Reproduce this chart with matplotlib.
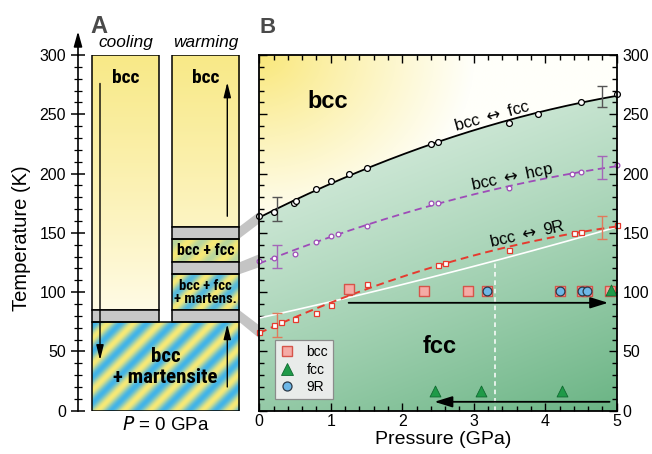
import numpy as np
import matplotlib
matplotlib.use('Agg')
import matplotlib.pyplot as plt
from matplotlib.patches import Rectangle, Polygon
from matplotlib.lines import Line2D
from matplotlib import font_manager as fm
from matplotlib.ticker import MultipleLocator

# ---------------- data ----------------
# Panel B: bcc <-> fcc transition points
fcc_P = [0, 0.2, 0.49, 0.52, 0.8, 1.0, 1.25, 1.5, 2.4, 2.5, 3.5, 3.9, 4.5, 5.0]
fcc_T = [164, 168, 175, 176.5, 187, 193.5, 200, 205, 225, 227, 243, 250, 260, 267]
# bcc <-> hcp
hcp_P = [0, 0.2, 0.5, 0.8, 1.0, 1.1, 1.5, 2.4, 2.5, 3.5, 4.38, 4.5, 5.0]
hcp_T = [126, 129, 132, 142.5, 147.5, 149, 156, 175, 175.5, 187.5, 200, 201, 207]
# bcc <-> 9R
r9_P = [0, 0.2, 0.3, 0.5, 0.8, 1.0, 1.26, 1.5, 2.5, 2.6, 3.5, 4.4, 4.5, 5.0]
r9_T = [66, 72, 74.5, 77, 82, 89.5, 100, 106.5, 123, 124.5, 135.5, 149.5, 150.5, 156.5]
# white boundary curve
white_P = [0, 1, 2, 3, 4, 5]
white_T = [78, 92, 107, 121, 138, 155]
white_dash_P = 3.3
# error bars (P, centre T, half-width)
fcc_err_P = [0.25, 4.8]; fcc_err_T = [170, 265]; fcc_err = [10, 9]
hcp_err_P = [0.25, 4.8]; hcp_err_T = [130, 205]; hcp_err = [10, 10]
r9_err_P = [0.25, 4.8]; r9_err_T = [72.5, 154.5]; r9_err = [10, 10]
# phase-identification markers
bcc_pts_P = [1.25, 2.3, 2.92, 3.19, 4.2, 4.51, 4.59, 4.9]
bcc_pts_T = [103, 101, 101, 101, 101, 101, 101, 101]
fcc_pts_P = [2.46, 3.1, 4.23, 4.92]
fcc_pts_T = [17, 17, 17, 102]
fcc_pts_err = [4, 4, 4, 0]
r9_pts_P = [3.19, 4.2, 4.51, 4.59]
r9_pts_T = [101, 101, 101, 101]
# path arrows (P start, P end, T)
arrow_up_path = (1.25, 4.88, 91)
arrow_down_path = (4.9, 2.45, 7.5)

# Panel A: phase bands (T ranges)
cool_bcc = (85, 300)
gray_low = (75, 85)
mart_box = (0, 75)
warm_bcc = (155, 300)
warm_gray1 = (145, 155)
warm_bf = (125, 145)
warm_gray2 = (115, 125)
warm_bfm = (85, 115)
# connector targets on panel B axis (T ranges at P = 0)
conn_src = [(145, 155), (115, 125), (75, 85)]
conn_dst = [(158, 168), (121, 132), (61, 72)]

# ---------------- fonts ----------------
def has_font(name):
    try:
        fm.findfont(fm.FontProperties(family=name), fallback_to_default=False)
        return True
    except Exception:
        return False

base = 'Liberation Sans' if has_font('Liberation Sans') else 'DejaVu Sans'
narrow = None
for f in fm.fontManager.ttflist:
    n = f.name
    if ('Narrow' in n or 'Condensed' in n) and n not in ('DejaVu Sans Mono',):
        narrow = n
        if 'Liberation' in n or 'Arial' in n or 'Nimbus' in n:
            break
if narrow is None:
    narrow = base
    NS = 0.86   # shrink factor when no condensed face exists
else:
    NS = 1.0
plt.rcParams['font.family'] = [base, 'DejaVu Sans']

W, H = 652, 454
fig = plt.figure(figsize=(W / 100, H / 100), dpi=100)
fig.patch.set_facecolor('white')

Y_TOP, Y_BOT = 55.0, 410.7
A_L, A_R = 78.0, 245.0
B_L, B_R = 259.3, 616.7
PPK = (Y_BOT - Y_TOP) / 300.0

axA = fig.add_axes([A_L / W, 1 - Y_BOT / H, (A_R - A_L) / W, (Y_BOT - Y_TOP) / H])
axB = fig.add_axes([B_L / W, 1 - Y_BOT / H, (B_R - B_L) / W, (Y_BOT - Y_TOP) / H])

# ---------------- Panel A ----------------
axA.patch.set_alpha(0)
for s in ['top', 'right', 'bottom']:
    axA.spines[s].set_visible(False)
axA.spines['left'].set_linewidth(1.2)

COOL = (14, 81)
WARM = (94, 161)

def stripes(ax, x0, x1, t0, t1, strength=1.0):
    nx = max(int((x1 - x0) * 3), 2)
    ny = max(int((t1 - t0) * PPK * 3), 2)
    xs = np.linspace(x0, x1, nx)
    ys = np.linspace(t0, t1, ny) * PPK
    X, Y = np.meshgrid(xs, ys)
    v = 0.5 + 0.5 * np.sin(2 * np.pi * (X - Y) / 26.0)
    v = v * strength
    blue = np.array([66, 180, 232]) / 255
    yel = np.array([247, 233, 118]) / 255
    img = yel * (1 - v[..., None]) + blue * v[..., None]
    ax.imshow(img, extent=(x0, x1, t0, t1), origin='lower', aspect='auto',
              interpolation='bilinear', zorder=1)

def ygrad(ax, x0, x1, t0, t1):
    ts = np.linspace(t0, t1, 200)
    f = np.clip((ts - 85) / (300 - 85), 0, 1) ** 0.9
    top = np.array([248, 233, 135]) / 255
    bot = np.array([255, 251, 230]) / 255
    col = bot * (1 - f[:, None]) + top * f[:, None]
    img = np.repeat(col[:, None, :], 2, axis=1)
    ax.imshow(img, extent=(x0, x1, t0, t1), origin='lower', aspect='auto',
              interpolation='bilinear', zorder=1)

def box(ax, x0, x1, t0, t1, fc='none'):
    ax.add_patch(Rectangle((x0, t0), x1 - x0, t1 - t0, facecolor=fc,
                           edgecolor='black', lw=1.1, zorder=3))

GRAY = '#c8c8c8'
# cooling column
ygrad(axA, COOL[0], COOL[1], *cool_bcc)
box(axA, COOL[0], COOL[1], *cool_bcc)
box(axA, COOL[0], COOL[1], *gray_low, fc=GRAY)
# warming column
ygrad(axA, WARM[0], WARM[1], *warm_bcc)
box(axA, WARM[0], WARM[1], *warm_bcc)
box(axA, WARM[0], WARM[1], *warm_gray1, fc=GRAY)
stripes(axA, WARM[0], WARM[1], *warm_bf, strength=0.35)
box(axA, WARM[0], WARM[1], *warm_bf)
box(axA, WARM[0], WARM[1], *warm_gray2, fc=GRAY)
stripes(axA, WARM[0], WARM[1], *warm_bfm, strength=0.9)
box(axA, WARM[0], WARM[1], *warm_bfm)
box(axA, WARM[0], WARM[1], *gray_low, fc=GRAY)
# martensite box
stripes(axA, COOL[0], WARM[1], *mart_box, strength=1.0)
box(axA, COOL[0], WARM[1], *mart_box)

# connectors
xc1 = B_L - A_L
for (s0, s1), (d0, d1) in zip(conn_src, conn_dst):
    axA.add_patch(Polygon([(WARM[1], s0), (WARM[1], s1), (xc1, d1), (xc1, d0)],
                          closed=True, facecolor='#c4c4c4', edgecolor='none',
                          clip_on=False, zorder=0.5))

# arrows in A
ak = dict(arrowstyle='-|>,head_length=0.9,head_width=0.22', color='black', lw=1.0,
          shrinkA=0, shrinkB=0, mutation_scale=10)
axA.annotate('', xy=(22, 42.6), xytext=(22, 276), arrowprops=ak, zorder=4)
axA.annotate('', xy=(149.3, 277), xytext=(149.3, 164), arrowprops=ak, zorder=4)
axA.annotate('', xy=(149.3, 73), xytext=(149.3, 20), arrowprops=ak, zorder=4)
# axis arrow
axA.annotate('', xy=(0, 320), xytext=(0, 299.5), annotation_clip=False,
             arrowprops=dict(arrowstyle='-|>,head_length=0.9,head_width=0.25', color='black',
                             lw=1.2, shrinkA=0, shrinkB=0, mutation_scale=10))

# labels in A
nb = dict(family=[narrow, base], fontweight='bold', ha='center', va='center', zorder=5)
axA.text(np.mean(COOL), 281, 'bcc', fontsize=14 * NS, **nb)
axA.text(np.mean(WARM), 281, 'bcc', fontsize=14 * NS, **nb)
axA.text(np.mean(WARM), 135, 'bcc + fcc', fontsize=11.5 * NS, **nb)
axA.text(np.mean(WARM), 99.5, 'bcc + fcc\n+ martens.', fontsize=11 * NS * 0.97,
         linespacing=0.95, **nb)
axA.text(87.5, 37, 'bcc\n+ martensite', fontsize=15 * NS, linespacing=1.15, **nb)

axA.set_xlim(0, A_R - A_L)
axA.set_ylim(0, 300)
axA.set_xticks([])
axA.yaxis.set_major_locator(MultipleLocator(50))
axA.yaxis.set_minor_locator(MultipleLocator(10))
axA.tick_params(axis='y', which='major', direction='inout', length=10, width=1.1,
                labelsize=11.5, pad=3.5)
axA.tick_params(axis='y', which='minor', direction='inout', length=5.5, width=0.9)

# ---------------- Panel B ----------------
nP, nT = 600, 700
Pg = np.linspace(0, 5, nP)
Tg = np.linspace(0, 300, nT)
PP, TT = np.meshgrid(Pg, Tg)
fcc_fit = np.polyfit(fcc_P, fcc_T, 2)
line = np.polyval(fcc_fit, PP)
u = np.clip(np.sqrt((PP / 3.0) ** 2 + ((300 - TT) / 150.0) ** 2), 0, 1) ** 0.9
yellow = np.array([249, 231, 120]) / 255
white = np.array([255, 255, 250]) / 255
ycol = yellow * (1 - u[..., None]) + white * u[..., None]
t = np.clip(0.72 * (1 - TT / 300) + 0.28 * PP / 5, 0, 1) ** 1.3
light = np.array([230, 244, 234]) / 255
dark = np.array([106, 180, 132]) / 255
gcol = light * (1 - t[..., None]) + dark * t[..., None]
wmask = np.clip((TT - line) / 1.0 + 0.5, 0, 1)[..., None]
bg = gcol * (1 - wmask) + ycol * wmask
axB.imshow(bg, extent=(0, 5, 0, 300), origin='lower', aspect='auto',
           interpolation='bilinear', zorder=0)

Pd = np.linspace(0, 5, 200)
hcp_fit = np.polyfit(hcp_P, hcp_T, 2)
r9_fit = np.polyfit(r9_P, r9_T, 2)
w_fit = np.polyfit(white_P, white_T, 2)

PURPLE = '#9e4cb8'
RED = '#e63a2e'
axB.plot(Pd, np.polyval(fcc_fit, Pd), color='black', lw=1.3, zorder=3)
axB.plot(Pd, np.polyval(hcp_fit, Pd), color=PURPLE, lw=1.3, ls=(0, (4, 2.5)), zorder=3)
axB.plot(Pd, np.polyval(r9_fit, Pd), color=RED, lw=1.4, ls=(0, (4, 2.5)), zorder=3)
axB.plot(Pd, np.polyval(w_fit, Pd), color='white', lw=1.2, zorder=2)
axB.plot([white_dash_P, white_dash_P], [0, np.polyval(w_fit, white_dash_P)],
         color='white', lw=1.1, ls=(0, (3, 2.5)), zorder=2)

axB.plot(fcc_P, fcc_T, 'o', ms=4.2, mfc='white', mec='black', mew=0.9, zorder=4, clip_on=False)
axB.plot(hcp_P, hcp_T, 'o', ms=3.4, mfc='white', mec=PURPLE, mew=0.9, zorder=4, clip_on=False)
axB.plot(r9_P, r9_T, 's', ms=3.6, mfc='white', mec=RED, mew=0.9, zorder=4, clip_on=False)

axB.errorbar(fcc_err_P, fcc_err_T, yerr=fcc_err, fmt='none', ecolor='#555555',
             elinewidth=1.0, capsize=3.5, capthick=1.0, zorder=3)
axB.errorbar(hcp_err_P, hcp_err_T, yerr=hcp_err, fmt='none', ecolor='#a466b8',
             elinewidth=1.0, capsize=3.5, capthick=1.0, zorder=3)
axB.errorbar(r9_err_P, r9_err_T, yerr=r9_err, fmt='none', ecolor='#e07a5c',
             elinewidth=1.0, capsize=3.5, capthick=1.0, zorder=3)

BCC_FC, BCC_EC = '#f5aba6', '#d6544a'
FCC_FC, FCC_EC = '#1f9a48', '#0f6a30'
R9_FC, R9_EC = '#6db7e7', '#2b3a48'
axB.errorbar(fcc_pts_P, fcc_pts_T, yerr=fcc_pts_err, fmt='none', ecolor=FCC_FC,
             elinewidth=0.9, capsize=0, zorder=5)
axB.scatter(bcc_pts_P, bcc_pts_T, marker='s', s=52, facecolor=BCC_FC, edgecolor=BCC_EC,
            lw=1.0, zorder=5)
axB.scatter(r9_pts_P, r9_pts_T, marker='o', s=40, facecolor=R9_FC, edgecolor=R9_EC,
            lw=0.9, zorder=6)
axB.scatter(fcc_pts_P, fcc_pts_T, marker='^', s=62, facecolor=FCC_FC, edgecolor=FCC_EC,
            lw=0.6, zorder=7, clip_on=False)

bk = dict(arrowstyle='-|>,head_length=0.9,head_width=0.28', color='black', lw=1.3,
          shrinkA=0, shrinkB=0, mutation_scale=12)
axB.annotate('', xy=(arrow_up_path[1], arrow_up_path[2]),
             xytext=(arrow_up_path[0], arrow_up_path[2]), arrowprops=bk, zorder=6)
axB.annotate('', xy=(arrow_down_path[1], arrow_down_path[2]),
             xytext=(arrow_down_path[0], arrow_down_path[2]), arrowprops=bk, zorder=6)

# text labels in B
axB.text(0.96, 255, 'bcc', fontsize=17, fontweight='bold', ha='center', va='baseline', zorder=6)
axB.text(2.53, 48.4, 'fcc', fontsize=17, fontweight='bold', ha='center', va='baseline', zorder=6)
lk = dict(fontsize=12, ha='center', va='center', rotation_mode='anchor', zorder=6)
axB.text(3.25, 248.5, 'bcc $\\leftrightarrow$ fcc', rotation=15.3, **lk)
axB.text(3.54, 196.6, 'bcc $\\leftrightarrow$ hcp', rotation=11.7, **lk)
axB.text(3.74, 149, 'bcc $\\leftrightarrow$ 9R', rotation=12.5, **lk)

handles = [Line2D([], [], ls='none', marker='s', ms=7, mfc=BCC_FC, mec=BCC_EC, mew=1.0),
           Line2D([], [], ls='none', marker='^', ms=8, mfc=FCC_FC, mec=FCC_EC, mew=0.6),
           Line2D([], [], ls='none', marker='o', ms=6.5, mfc=R9_FC, mec=R9_EC, mew=0.9)]
leg = axB.legend(handles, ['bcc', 'fcc', '9R'], loc='lower left',
                 bbox_to_anchor=(0.045, 0.033), fontsize=10, frameon=True,
                 fancybox=False, handlelength=1.0, handletextpad=0.9,
                 labelspacing=0.25, borderpad=0.35, borderaxespad=0)
leg.get_frame().set_facecolor('#eeeeee')
leg.get_frame().set_edgecolor('#888888')
leg.get_frame().set_alpha(0.95)
leg.get_frame().set_linewidth(0.9)
leg.set_zorder(8)

axB.set_xlim(0, 5)
axB.set_ylim(0, 300)
axB.xaxis.set_major_locator(MultipleLocator(1))
axB.xaxis.set_minor_locator(MultipleLocator(0.2))
axB.yaxis.set_major_locator(MultipleLocator(50))
axB.yaxis.set_minor_locator(MultipleLocator(10))
axB.tick_params(which='both', direction='in', top=True, bottom=True, left=True, right=True,
                labelleft=False, labelright=True, labelsize=11.5, width=1.0)
axB.tick_params(which='major', length=6)
axB.tick_params(which='minor', length=3.5)
axB.tick_params(axis='x', pad=2.5)
axB.tick_params(axis='y', pad=4.3)
for s in axB.spines.values():
    s.set_linewidth(1.3)
    s.set_zorder(9)

# ---------------- figure-level text ----------------
def ft(x, y, s, **kw):
    fig.text(x / W, 1 - y / H, s, **kw)

ft(99, 33, 'A', fontsize=17, fontweight='bold', color='#4a4a4a', ha='center', va='baseline')
ft(267.5, 33, 'B', fontsize=16, fontweight='bold', color='#4a4a4a', ha='center', va='baseline')
ft(125.5, 47, 'cooling', fontsize=12.4, style='italic', ha='center', va='baseline')
ft(206, 47, 'warming', fontsize=12.4, style='italic', ha='center', va='baseline')
ft(166, 430, '$\\mathit{P}$ = 0 GPa', fontsize=13.5, ha='center', va='baseline')
ft(443.5, 444, 'Pressure (GPa)', fontsize=14, ha='center', va='baseline')
ft(22, 238, 'Temperature (K)', fontsize=14.5, ha='center', va='center', rotation=90)

fig.savefig('out.png', dpi=100, facecolor='white')
